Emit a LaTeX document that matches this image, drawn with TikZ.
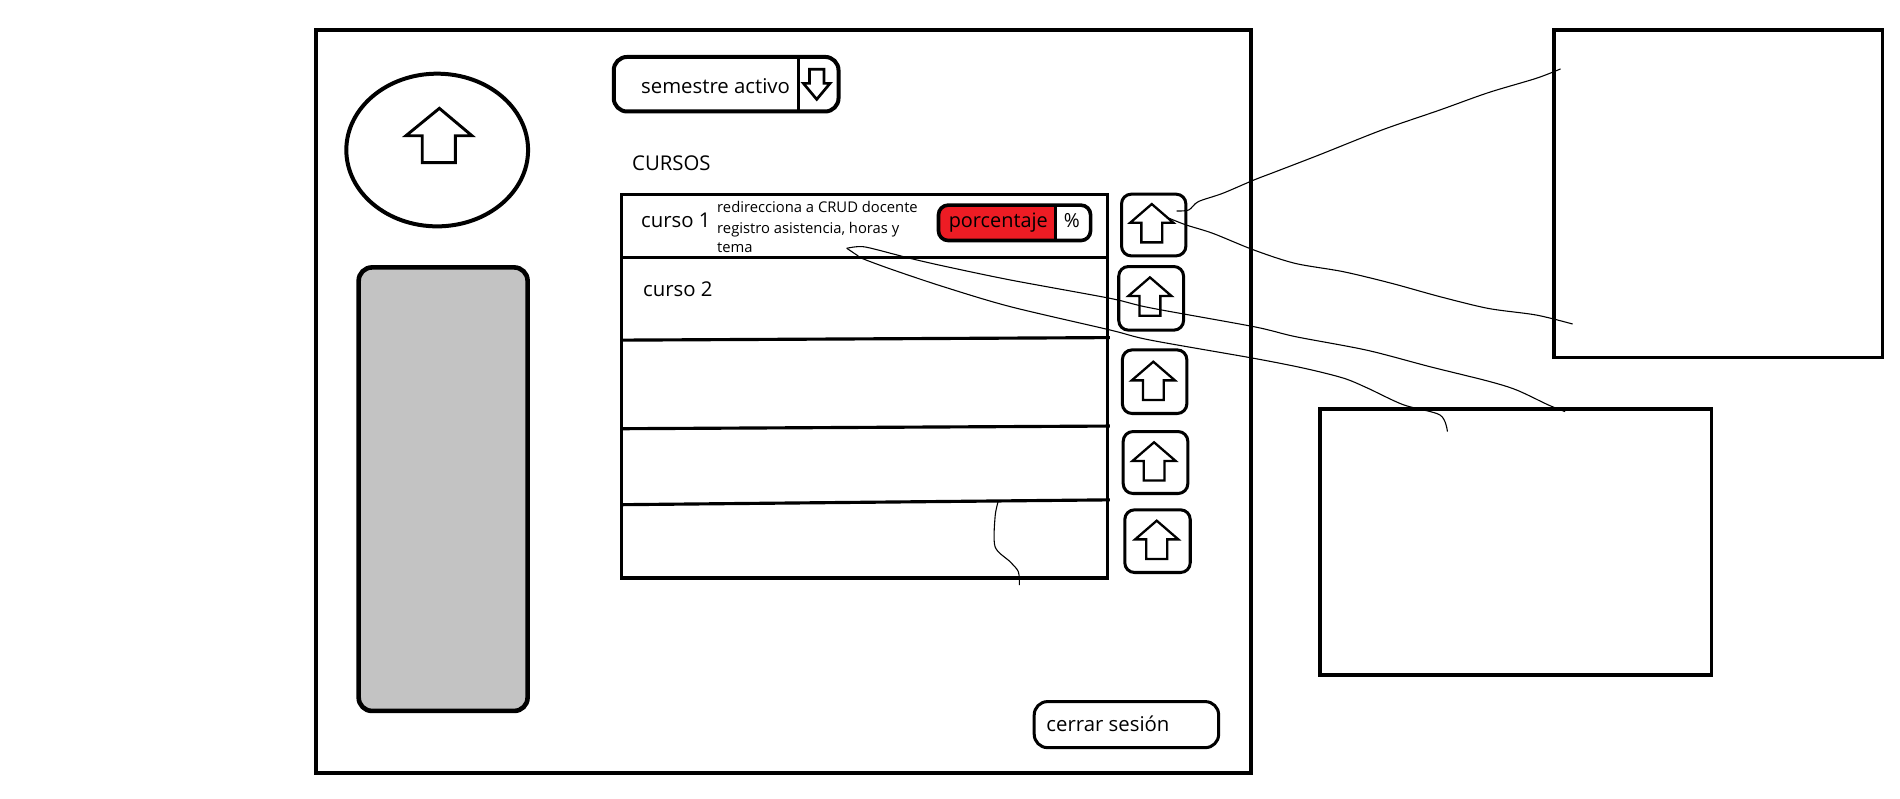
\documentclass[tikz,border=0pt]{standalone}
\usepackage{fontspec}
\setmainfont{Open Sans}
\usetikzlibrary{shapes.geometric}
\definecolor{pred}{HTML}{ED1C24}
\definecolor{pgray}{HTML}{C3C3C3}
\begin{document}
\begin{tikzpicture}[x=0.5pt,y=-0.5pt,
  heavy/.style={draw, line width=1.65pt, inner sep=0pt},
  medium/.style={draw, line width=1.3pt, inner sep=0pt},
  btnbox/.style={draw, line width=1.25pt, inner sep=0pt, rounded corners=4pt},
  panel/.style={draw, line width=1.5pt, inner sep=0pt},
  arrline/.style={draw, line width=0.95pt, line join=miter},
  rowline/.style={line width=1.3pt},
  wig/.style={line width=0.45pt},
  txt/.style={anchor=base west, inner sep=0pt, font=\fontsize{8.4}{10}\selectfont},
  desc/.style={anchor=base west, inner sep=0pt, font=\fontsize{6.1}{8}\selectfont},
  uparr/.pic={\path[arrline] (0,0) -- (17.8,15.4) -- (8.6,15.4) -- (8.6,31.6) -- (-8.6,31.6) -- (-8.6,15.4) -- (-17.8,15.4) -- cycle;}
]
\useasboundingbox (0,0) rectangle (1568,658.6);
\fill[white] (0,0) rectangle (1568,658.6);

% main frame
\node[heavy, minimum width=385.75pt, minimum height=306.5pt] (frame) at (646.25,331.5) {};

% avatar
\node[heavy, ellipse, minimum width=75pt, minimum height=63pt] (avatar) at (360.8,123.8) {};
\draw[line width=1.2pt, line join=miter] (362.6,89.4) -- (389.5,112) -- (375.8,112) -- (375.8,134.2) -- (348.5,134.2) -- (348.5,112) -- (335,112) -- cycle;

% side menu
\node[draw, line width=1.9pt, fill=pgray, rounded corners=5.5pt, inner sep=0pt, minimum width=69.7pt, minimum height=183pt] (menu) at (365.7,403.7) {};

% semestre activo selector
\node[heavy, rounded corners=5.5pt, minimum width=92.75pt, minimum height=22.5pt] (sem) at (599.25,69.5) {};
\draw[line width=1.2pt] (658.8,47) -- (658.8,92);
\draw[line width=1.1pt, line join=miter] (668,57.2) -- (680,57.2) -- (680,68.8) -- (685,68.8) -- (674,82) -- (663,68.8) -- (668,68.8) -- cycle;
\node[txt] (semt) at (528.7,77) {semestre activo};

% CURSOS
\node[txt] (cursos) at (521.3,140.5) {CURSOS};

% list
\node[medium, minimum width=200.65pt, minimum height=158.1pt] (list) at (713.65,318.9) {};
\draw[rowline] (513,212.3) -- (914.3,212.3);
\draw[rowline] (513,280.7) -- (916,278.6);
\draw[rowline] (513,353.8) -- (916,351.6);
\draw[rowline] (513,416.5) -- (916,412.5);

% row 1 content
\node[txt] (c1) at (528.7,187.9) {curso 1};
\node[desc] (d1) at (591.5,175.5) {redirecciona a CRUD docente};
\node[desc] (d2) at (591.5,192.6) {registro asistencia, horas y};
\node[desc] (d3) at (591.5,208.5) {tema};

% porcentaje
\begin{scope}
  \clip[rounded corners=4pt] (774.5,169.3) rectangle (900,198.5);
  \fill[pred] (774.5,169.3) rectangle (870.7,198.5);
\end{scope}
\node[draw, line width=1.5pt, inner sep=0pt, rounded corners=4pt, minimum width=62.75pt, minimum height=14.6pt] (pct) at (837.25,183.9) {};
\draw[line width=1.2pt] (870.7,169.3) -- (870.7,198.5);
\node[txt, font=\fontsize{8.2}{10}\selectfont] (pctt) at (782.6,187.6) {porcentaje};
\node[txt, font=\fontsize{8}{10}\selectfont] (pcts) at (877.5,187.6) {\%};

% row 2
\node[txt] (c2) at (530.4,244.8) {curso 2};

% buttons
\node[btnbox, minimum width=26.55pt, minimum height=25.45pt] (b1) at (952.1,185.7) {};
\node[btnbox, minimum width=26.75pt, minimum height=26.25pt] (b2) at (950,246.2) {};
\node[btnbox, minimum width=26.6pt, minimum height=26.25pt] (b3) at (952.85,315) {};
\node[btnbox, minimum width=26.65pt, minimum height=25.55pt] (b4) at (953.6,381.7) {};
\node[btnbox, minimum width=27pt, minimum height=25.85pt] (b5) at (955.25,446.6) {};
\pic at (950.5,168.4) {uparr};
\pic at (949,228.9) {uparr};
\pic at (951.8,298.5) {uparr};
\pic at (952.4,365) {uparr};
\pic at (954.6,429.7) {uparr};

% cerrar sesion
\node[draw, line width=1.25pt, inner sep=0pt, rounded corners=5.5pt, minimum width=76.1pt, minimum height=19pt] (logout) at (929.6,598) {};
\node[txt] (logoutt) at (863.2,603.8) {cerrar sesión};

% right panels
\node[panel, minimum width=135.5pt, minimum height=135pt] (p1) at (1418,160) {};
\node[panel, minimum width=161.5pt, minimum height=109.6pt] (p2) at (1251,447.3) {};

% freehand lines
\draw[wig] plot[smooth, tension=0.5] coordinates {(971,174.1) (981,173.3) (988.9,166.4) (1008.9,159.6) (1034.7,148.6) (1052.7,141.7) (1088.5,127.9) (1140.4,107.3) (1188.2,90.8) (1228.1,76.5) (1267.9,64.6) (1287.8,56.9)};
\draw[wig] plot[smooth, tension=0.5] coordinates {(965,180.2) (979,185.7) (1001,192.6) (1034.7,206.3) (1068.6,217.3) (1108.5,224.2) (1148.4,233.8) (1188.2,244.8) (1228.1,254.5) (1267.9,260) (1297.8,267.4)};
\draw[wig] plot[smooth, tension=0.5] coordinates {(698.8,204.9) (712.5,203.6) (737.2,209.6) (751,213.2) (778.5,219.5) (833.5,231) (916,246.2) (949,254) (1034.7,269.6) (1069,277.8) (1128,289) (1180,302.6) (1228.3,314.6) (1251.7,321.9) (1277.8,334.2) (1291.6,339.7)};
\draw[wig] plot[smooth, tension=0.5] coordinates {(698.8,204.9) (707,210.4) (712.5,213.7) (737.2,222.8) (778.5,236.6) (833.5,253) (916,272.3) (949,280.6) (1034.7,295.7) (1076.7,304) (1108.5,312) (1128,320) (1158,334) (1188.4,342.5) (1194.5,356.2)};
\draw[wig] plot[smooth, tension=0.5] coordinates {(823.9,413.2) (821.2,426.4) (821.2,451.2) (833.5,463.5) (840.4,471.8) (841.2,482.8)};
\end{tikzpicture}
\end{document}
